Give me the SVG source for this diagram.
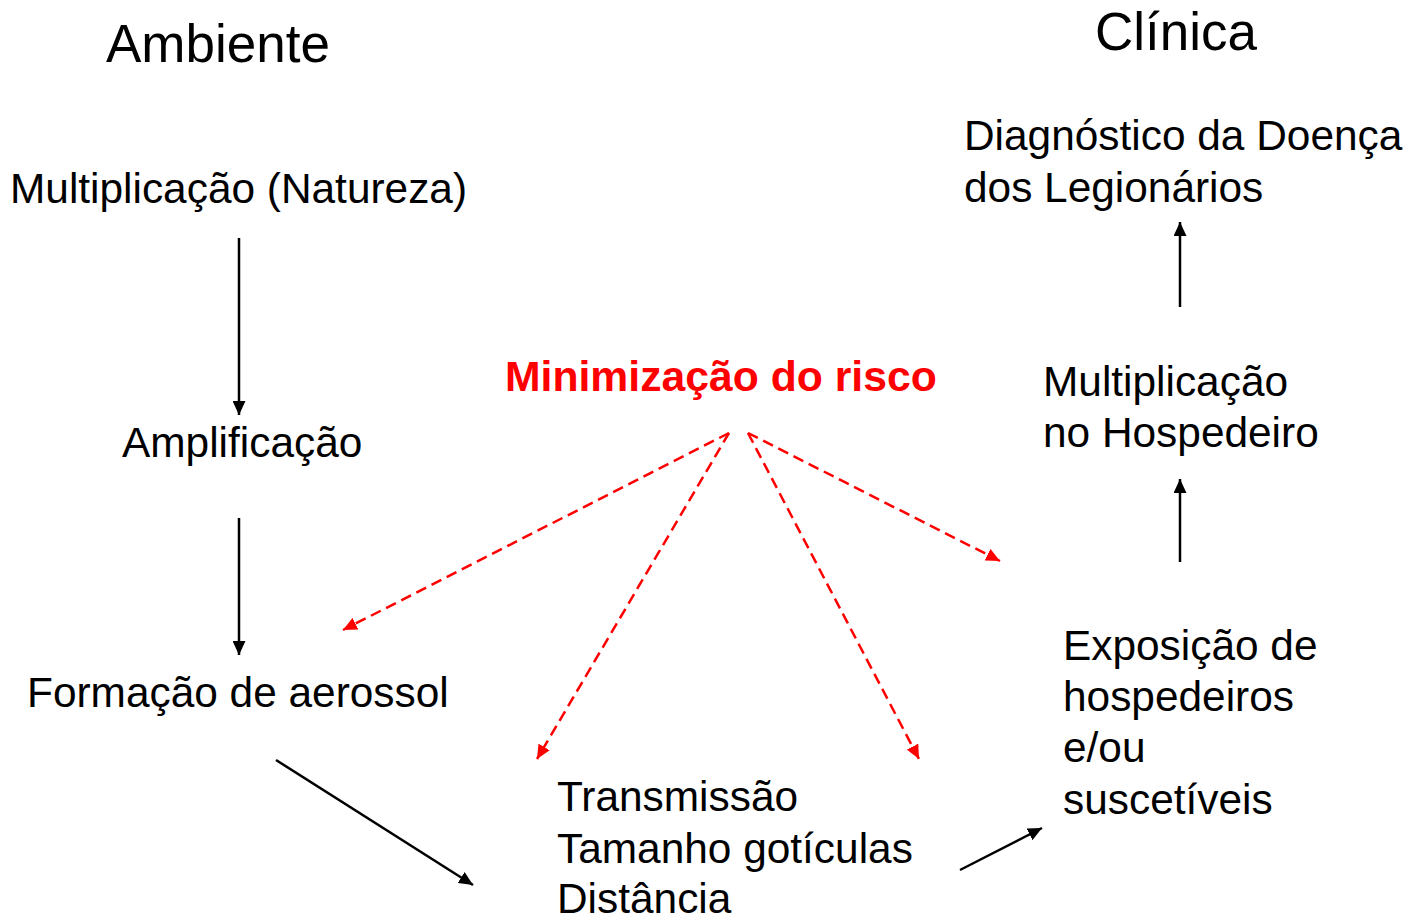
<svg xmlns="http://www.w3.org/2000/svg" width="1406" height="914" viewBox="0 0 1406 914">
<style>
text{font-family:"Liberation Sans",Arial,sans-serif;fill:#000;font-size:42.4px}
.h{font-size:53px}
.r{fill:#ff0000;font-weight:bold;font-size:42.7px}
.k{stroke:#000;stroke-width:2.5;fill:none}
.d{stroke:#ff0000;stroke-width:2.5;fill:none;stroke-dasharray:11 6}
</style>
<defs>
<marker id="ab" markerUnits="userSpaceOnUse" markerWidth="15" markerHeight="13" refX="14" refY="6.5" orient="auto"><path d="M0,0 L14,6.5 L0,13 Z" fill="#000"/></marker>
<marker id="ar" markerUnits="userSpaceOnUse" markerWidth="15" markerHeight="13" refX="14" refY="6.5" orient="auto"><path d="M0,0 L14,6.5 L0,13 Z" fill="#ff0000"/></marker>
</defs>
<g id="titles">
<text class="h" x="106" y="62">Ambiente</text>
<text class="h" x="1095" y="50">Clínica</text>
</g>
<g id="n-natureza"><text x="10" y="203">Multiplicação (Natureza)</text></g>
<g id="n-amplificacao"><text x="122" y="457">Amplificação</text></g>
<g id="n-aerossol"><text x="27" y="707">Formação de aerossol</text></g>
<g id="n-transmissao"><text x="557" y="811">Transmissão</text><text x="557" y="863">Tamanho gotículas</text><text x="557" y="913">Distância</text></g>
<g id="n-exposicao"><text x="1063" y="660">Exposição de</text><text x="1063" y="711">hospedeiros</text><text x="1063" y="762">e/ou</text><text x="1063" y="814">suscetíveis</text></g>
<g id="n-hospedeiro"><text x="1043" y="396">Multiplicação</text><text x="1043" y="447">no Hospedeiro</text></g>
<g id="n-diagnostico"><text x="964" y="150">Diagnóstico da Doença</text><text x="964" y="202">dos Legionários</text></g>
<g id="n-risco"><text class="r" x="505" y="391">Minimização do risco</text></g>
<g id="connectors">
<line class="k" x1="239" y1="238" x2="239" y2="415" marker-end="url(#ab)"/>
<line class="k" x1="239" y1="518" x2="239" y2="655" marker-end="url(#ab)"/>
<line class="k" x1="276" y1="760" x2="473" y2="885" marker-end="url(#ab)"/>
<line class="k" x1="960" y1="870" x2="1042" y2="828" marker-end="url(#ab)"/>
<line class="k" x1="1180" y1="562" x2="1180" y2="479" marker-end="url(#ab)"/>
<line class="k" x1="1180" y1="307" x2="1180" y2="222" marker-end="url(#ab)"/>
<line class="d" x1="729" y1="433" x2="343" y2="630" marker-end="url(#ar)"/>
<line class="d" x1="729" y1="433" x2="537" y2="759" marker-end="url(#ar)"/>
<line class="d" x1="748" y1="433" x2="919" y2="759" marker-end="url(#ar)"/>
<line class="d" x1="748" y1="433" x2="1000" y2="561" marker-end="url(#ar)"/>
</g>
</svg>
